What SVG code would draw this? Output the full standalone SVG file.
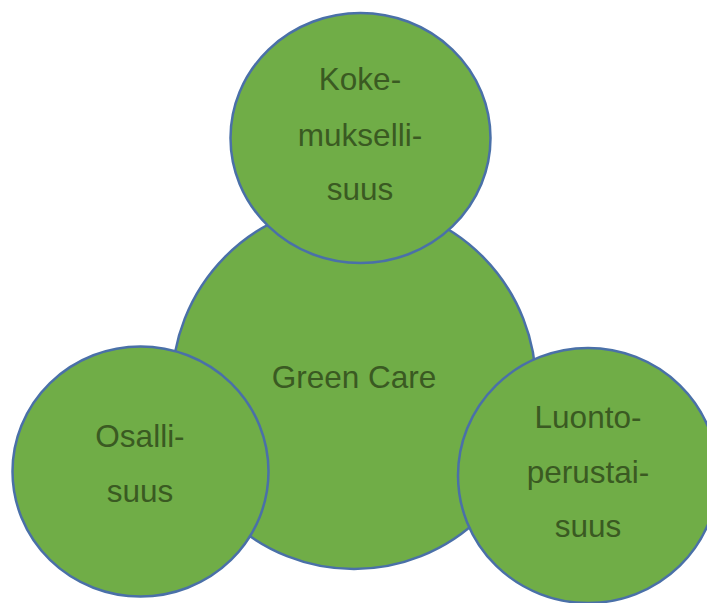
<svg xmlns="http://www.w3.org/2000/svg" width="707" height="603" viewBox="0 0 707 603">
<style>
.c{fill:#70AD47;stroke:#4A70A8;stroke-width:2.5}
.t{font-family:"Liberation Sans",Arial,sans-serif;font-size:31.5px;fill:#3A5A22;text-anchor:middle}
</style>
<rect width="707" height="603" fill="#ffffff"/>
<g id="connectors"></g>
<g id="green-care">
<ellipse class="c" cx="354" cy="386" rx="182" ry="183"/>
<text class="t" x="354" y="388">Green Care</text>
</g>
<g id="kokemuksellisuus">
<ellipse class="c" cx="360.5" cy="138" rx="130" ry="125"/>
<text class="t" x="360" y="90">Koke-</text>
<text class="t" x="360" y="146">mukselli-</text>
<text class="t" x="360" y="200">suus</text>
</g>
<g id="osallisuus">
<ellipse class="c" cx="140.5" cy="471.5" rx="128" ry="125"/>
<text class="t" x="140" y="447">Osalli-</text>
<text class="t" x="140" y="502">suus</text>
</g>
<g id="luontoperustaisuus">
<ellipse class="c" cx="588" cy="475.5" rx="130" ry="127.5"/>
<text class="t" x="588" y="428">Luonto-</text>
<text class="t" x="588" y="483">perustai-</text>
<text class="t" x="588" y="537">suus</text>
</g>
</svg>
